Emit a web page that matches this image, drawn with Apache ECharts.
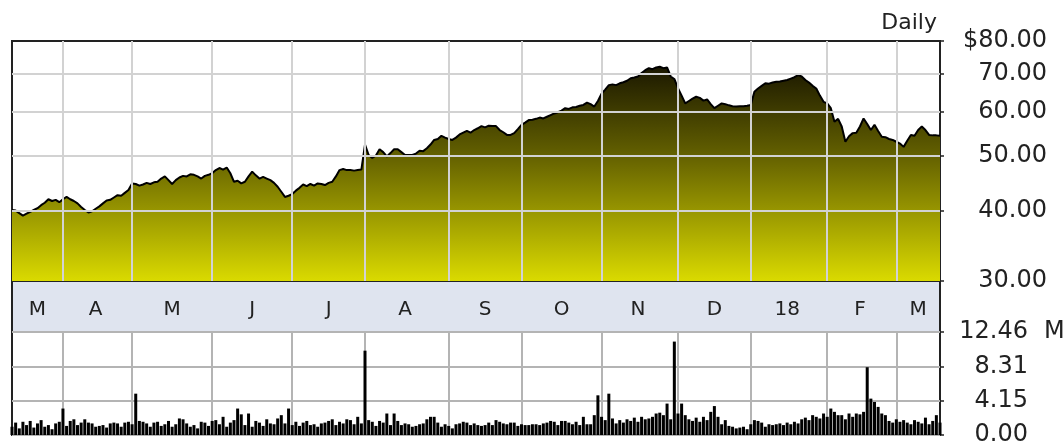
<!DOCTYPE html>
<html><head><meta charset="utf-8">
<script src="https://cdn.jsdelivr.net/npm/echarts@6/dist/echarts.min.js"></script>
<style>html,body{margin:0;padding:0;background:#fff}#c{width:1063px;height:447px}</style>
</head><body><div id="c"></div>
<script>
// ---- data ----
const startDate = '2017-03-14';
const endDate = '2018-03-19';
const holidays = ['2017-04-14','2017-05-29','2017-07-04','2017-09-04','2017-11-23','2017-12-25','2018-01-01','2018-01-15','2018-02-19'];
const monthLabels = ['M','A','M','J','J','A','S','O','N','D','18','F','M'];
const priceTicks = [30, 40, 50, 60, 70, 80];
const priceGridValues = [40, 50, 60, 70];
const volumeMax = 12.46;
const volumeUnit = 'M';
const periodLabel = 'Daily';
const prices = [
40.1,40.0,39.6,39.2,39.5,39.8,40.1,40.4,40.9,41.3,
41.9,41.6,41.8,41.4,41.9,42.3,41.9,41.6,41.2,40.6,
40.1,39.7,39.9,40.3,40.7,41.2,41.7,41.8,42.2,42.6,
42.5,43.0,43.5,44.7,44.6,44.3,44.5,44.8,44.6,44.9,
45.0,45.6,46.0,45.3,44.6,45.3,45.8,46.1,46.0,46.4,
46.3,46.0,45.6,46.1,46.3,46.6,47.2,47.6,47.3,47.7,
46.6,45.0,45.2,44.7,45.0,46.0,46.9,46.2,45.6,45.9,
45.6,45.3,44.8,44.1,43.2,42.3,42.5,42.8,43.4,43.9,
44.5,44.2,44.6,44.3,44.7,44.6,44.4,44.8,45.0,46.0,
47.2,47.4,47.2,47.2,47.1,47.2,47.3,52.4,50.2,49.6,
50.1,51.4,50.8,49.9,50.6,51.4,51.4,50.8,50.2,50.2,
50.2,50.5,51.1,51.0,51.6,52.4,53.4,53.6,54.3,53.9,
53.6,53.4,53.9,54.6,55.0,55.4,55.0,55.6,56.0,56.5,
56.2,56.6,56.5,56.5,55.6,55.1,54.5,54.5,54.9,55.8,
56.8,57.3,57.9,58.0,58.2,58.5,58.3,58.7,59.1,59.5,
59.8,60.2,60.8,60.6,61.0,61.1,61.4,61.6,62.2,61.8,
61.2,62.6,64.5,65.6,66.8,67.0,66.8,67.3,67.6,68.0,
68.7,68.9,69.2,70.2,71.0,71.6,71.3,71.8,72.0,71.6,
71.8,69.2,68.5,66.0,64.0,62.0,62.6,63.2,63.7,63.4,
62.7,63.0,61.8,60.8,61.4,62.0,61.8,61.5,61.3,61.2,
61.3,61.3,61.4,61.6,65.0,65.9,66.6,67.3,67.2,67.5,
67.7,67.8,68.0,68.2,68.6,69.0,69.6,69.2,68.2,67.5,
66.6,65.9,64.0,62.4,62.0,60.8,57.5,58.2,56.4,53.0,
54.2,54.9,55.0,56.4,58.3,57.0,55.6,56.8,55.4,54.1,
54.0,53.6,53.4,53.0,52.6,51.9,53.2,54.5,54.3,55.6,
56.4,55.6,54.5,54.4,54.4,54.3
];
const volumes = [
1.0,1.5,0.8,1.6,1.2,1.7,0.9,1.4,1.8,1.0,
1.2,0.7,1.4,1.6,3.2,1.1,1.7,1.9,1.2,1.5,
1.9,1.5,1.4,1.0,1.1,1.2,0.9,1.4,1.5,1.4,
1.0,1.5,1.6,1.3,5.0,1.7,1.6,1.4,1.0,1.5,
1.6,1.1,1.3,1.7,1.0,1.3,2.0,1.9,1.4,1.0,
1.2,0.8,1.6,1.5,1.1,1.7,1.8,1.3,2.2,1.0,
1.5,1.8,3.2,2.5,1.2,2.6,1.0,1.7,1.5,1.1,
1.9,1.4,1.3,2.0,2.4,1.4,3.2,1.2,1.6,1.1,
1.5,1.7,1.2,1.3,1.0,1.4,1.5,1.7,1.9,1.2,
1.6,1.4,1.9,1.8,1.3,2.2,1.4,10.2,1.8,1.6,
1.1,1.7,1.5,2.6,1.2,2.6,1.7,1.2,1.4,1.3,
1.0,1.1,1.3,1.4,1.9,2.2,2.2,1.5,1.0,1.3,
1.1,0.8,1.3,1.4,1.6,1.5,1.2,1.4,1.2,1.1,
1.2,1.5,1.2,1.8,1.6,1.4,1.3,1.5,1.5,1.1,
1.3,1.2,1.2,1.3,1.3,1.2,1.4,1.5,1.7,1.6,
1.2,1.7,1.7,1.5,1.3,1.6,1.2,2.2,1.3,1.3,
2.4,4.8,2.2,1.8,5.0,2.0,1.4,1.8,1.5,1.9,
1.7,2.1,1.6,2.2,1.9,2.0,2.2,2.6,2.7,2.4,
3.8,1.9,11.3,2.6,3.8,2.4,1.9,1.7,2.1,1.6,
2.2,1.8,2.8,3.5,2.2,1.3,1.8,1.1,1.0,0.8,
0.9,1.0,0.7,1.3,1.8,1.7,1.5,1.0,1.3,1.2,
1.3,1.4,1.2,1.5,1.3,1.6,1.4,1.9,2.1,1.8,
2.4,2.2,2.0,2.6,2.2,3.2,2.8,2.4,2.4,1.9,
2.6,2.2,2.6,2.5,2.8,8.2,4.4,4.0,3.4,2.6,
2.4,1.7,1.5,1.9,1.6,1.8,1.5,1.3,1.8,1.6,
1.4,2.1,1.3,1.7,2.4,1.5
];

// ---- trading-day categories ----
function tradingDays() {
  const out = [];
  let d = new Date(startDate + 'T00:00:00Z');
  const e = new Date(endDate + 'T00:00:00Z');
  while (d <= e) {
    const wd = d.getUTCDay();
    const s = d.toISOString().slice(0, 10);
    if (wd !== 0 && wd !== 6 && !holidays.includes(s)) out.push(s);
    d = new Date(d.getTime() + 86400000);
  }
  return out;
}
const dates = tradingDays();
const groups = [];
dates.forEach((d, i) => {
  const k = d.slice(0, 7);
  const g = groups[groups.length - 1];
  if (!g || g.key !== k) groups.push({ key: k, first: i, last: i }); else g.last = i;
});
const monthStartIdx = groups.slice(1).map(g => g.first);
const monthStart = new Set(monthStartIdx);
const labelAt = {};
groups.forEach((g, j) => { labelAt[Math.round((g.first + g.last) / 2)] = monthLabels[j]; });

const gridMarks = monthStartIdx.map(i => ({ xAxis: dates[i] }))
  .concat(priceGridValues.map(v => ({ yAxis: v })));

const FONT = 'DejaVu Sans';
const chart = echarts.init(document.getElementById('c'), null, { renderer: 'canvas' });
chart.setOption({
  animation: false,
  backgroundColor: '#ffffff',
  grid: [
    { left: 12, top: 41, width: 928, height: 240, show: true, borderColor: '#222', borderWidth: 2, backgroundColor: 'transparent' },
    { left: 12, top: 281, width: 928, height: 51, show: true, borderColor: '#222', borderWidth: 2, backgroundColor: '#dfe4ef' },
    { left: 12, top: 332, width: 928, height: 105, show: true, borderColor: '#222', borderWidth: 2, backgroundColor: 'transparent' }
  ],
  xAxis: [
    { gridIndex: 0, type: 'category', data: dates, boundaryGap: false,
      axisLine: { show: true, lineStyle: { color: '#222', width: 2 } }, axisTick: { show: false },
      axisLabel: { interval: (i) => labelAt[i] !== undefined, formatter: (v, i) => labelAt[i] || '',
        margin: 29, verticalAlign: 'middle', fontFamily: FONT, fontSize: 20, color: '#222' },
      splitLine: { show: false } },
    { gridIndex: 1, type: 'category', data: dates, show: false },
    { gridIndex: 2, type: 'category', data: dates, boundaryGap: false,
      axisLine: { show: false }, axisTick: { show: false }, axisLabel: { show: false },
      splitLine: { show: true, interval: (i) => monthStart.has(i), lineStyle: { color: '#b4b4b4', width: 2 } } }
  ],
  yAxis: [
    { gridIndex: 0, type: 'log', min: 30, max: 80, position: 'right',
      axisLine: { show: true, lineStyle: { color: '#222', width: 2 } },
      axisTick: { show: true, length: 4, customValues: priceTicks, lineStyle: { color: '#222', width: 1.5 } },
      axisLabel: { customValues: priceTicks, formatter: (v) => (Math.abs(v - 80) < 1e-6 ? '$' : '') + Number(v).toFixed(2),
        align: 'right', margin: 107, fontFamily: FONT, fontSize: 24, color: '#222' },
      splitLine: { show: false } },
    { gridIndex: 1, type: 'value', show: false },
    { gridIndex: 2, type: 'value', min: 0, max: volumeMax, interval: volumeMax / 3, position: 'right',
      axisLine: { show: false },
      axisTick: { show: true, length: 4, lineStyle: { color: '#222', width: 1.5 } },
      axisLabel: { formatter: (v) => Number(v).toFixed(2), align: 'right', margin: 88, fontFamily: FONT, fontSize: 24, color: '#222' },
      splitLine: { show: true, lineStyle: { color: '#b4b4b4', width: 2 } } }
  ],
  series: [
    { type: 'line', name: 'grid', xAxisIndex: 0, yAxisIndex: 0, data: [], z: 1, silent: true,
      markLine: { silent: true, symbol: ['none', 'none'], animation: false, label: { show: false },
        emphasis: { disabled: true },
        lineStyle: { color: '#d2d2d2', width: 2, type: 'solid' }, data: gridMarks } },
    { type: 'line', xAxisIndex: 0, yAxisIndex: 0, data: prices, symbol: 'none', z: 3,
      lineStyle: { color: '#000', width: 2 },
      areaStyle: { origin: 'start', opacity: 1,
        color: new echarts.graphic.LinearGradient(0, 60, 0, 281, [
          { offset: 0, color: '#151200' }, { offset: 0.45, color: '#676400' }, { offset: 1, color: '#dada00' }], true) } },
    { type: 'bar', xAxisIndex: 2, yAxisIndex: 2, data: volumes, barWidth: 3, z: 3,
      itemStyle: { color: '#000' } }
  ],
  graphic: [
    { type: 'text', right: 126, top: 12, style: { text: periodLabel, font: '22px "DejaVu Sans"', fill: '#222' } },
    { type: 'text', left: 1044, top: 320, style: { text: volumeUnit, font: '24px "DejaVu Sans"', fill: '#222' } }
  ]
});
</script></body></html>
